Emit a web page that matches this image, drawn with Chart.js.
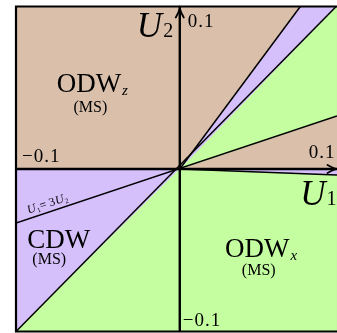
<!DOCTYPE html>
<html><head><meta charset="utf-8">
<script src="https://cdn.jsdelivr.net/npm/chart.js@4.4.1/dist/chart.umd.min.js"></script>
<style>html,body{margin:0;padding:0;background:#fff;overflow:hidden}canvas{display:block}</style>
</head><body>
<canvas id="c" width="337" height="333"></canvas>
<script>
// axis ranges (U1 horizontal, U2 vertical); right border is cut off in the picture
const xRange = [-0.1, 0.096];
const yRange = [-0.1, 0.1];
const tickValues = [-0.1, 0.1];
const tickLabels = ['\u22120.1', '0.1'];

// phase regions as polygons [U1, U2]
const odwzUpperLeft  = [[-0.1,0],[-0.1,0.1],[0.0736,0.1],[0,0],[-0.1,0]];
const cdwUpperWedge  = [[0,0],[0.0736,0.1],[0.0955,0.1],[0,0]];
const odwxUpperWedge = [[0,0],[0.0955,0.1],[0.096,0.1],[0.096,0.0326],[0,0]];
const odwzRightWedge = [[0,0],[0.096,0.0326],[0.096,0],[0,0]];
const cdwRightSliver = [[0,0],[0.096,0],[0.096,-0.0037],[0,0]];
const odwxLower      = [[0,0],[0.096,-0.0037],[0.096,-0.1],[-0.1,-0.1],[0,0]];
const cdwLowerLeft   = [[0,0],[-0.1,-0.1],[-0.1,0],[0,0]];

// phase boundaries
const lineU2eqU1  = [[-0.1,-0.1],[0.0955,0.1]];
const lineU1eq3U2 = [[-0.1,-0.0333],[0.096,0.0326]];
const lineUpper   = [[0,0],[0.0736,0.1]];
const lineLower   = [[0,0],[0.096,-0.0037]];
const axisU1 = [[-0.1,0],[0.096,0]];
const axisU2 = [[0,-0.1],[0,0.1]];

const BROWN = '#dac0ab', PURPLE = '#d6c0fc', GREEN = '#c4fea0';
const FONT = '"Liberation Serif", "Times New Roman", serif';

const pts = a => a.map(p => ({x: p[0], y: p[1]}));
const region = (a, c) => ({data: pts(a), showLine: true, fill: 'shape', backgroundColor: c,
  borderColor: c, borderWidth: 0.6, pointRadius: 0, tension: 0, order: 10});
const edge = (a, w) => ({data: pts(a), showLine: true, fill: false, borderColor: '#000',
  borderWidth: w, pointRadius: 0, tension: 0, order: 0});

function subText(ctx, main, sub, x, y, mainFont, subFont, align, dy) {
  ctx.font = mainFont;
  const w = ctx.measureText(main).width;
  ctx.font = subFont;
  const ws = ctx.measureText(sub).width;
  let left = x;
  if (align === 'center') left = x - w / 2;
  else if (align === 'right') left = x - w - ws;
  ctx.textAlign = 'left';
  ctx.font = mainFont;
  ctx.fillText(main, left, y);
  ctx.font = subFont;
  ctx.fillText(sub, left + w + 1, y + dy);
}

const overlay = {
  id: 'overlay',
  afterDatasetsDraw(chart) {
    const ctx = chart.ctx, a = chart.chartArea;
    const X = v => chart.scales.x.getPixelForValue(v);
    const Y = v => chart.scales.y.getPixelForValue(v);
    ctx.save();
    // frame (left, top, bottom)
    ctx.strokeStyle = '#000'; ctx.lineWidth = 2.2;
    ctx.beginPath();
    ctx.moveTo(a.right + 2, a.top); ctx.lineTo(a.left, a.top);
    ctx.lineTo(a.left, a.bottom); ctx.lineTo(a.right + 2, a.bottom);
    ctx.stroke();
    // arrowheads
    ctx.lineWidth = 1.8; ctx.lineCap = 'round';
    const tx = X(0), ty = Y(yRange[1]) + 2;
    ctx.beginPath();
    ctx.moveTo(tx - 4, ty + 9); ctx.quadraticCurveTo(tx - 1, ty + 4, tx, ty);
    ctx.quadraticCurveTo(tx + 1, ty + 4, tx + 4, ty + 9); ctx.stroke();
    const rx = a.right - 0.5, ry = Y(0);
    ctx.beginPath();
    ctx.moveTo(rx - 9, ry - 4); ctx.quadraticCurveTo(rx - 4, ry - 1, rx, ry);
    ctx.quadraticCurveTo(rx - 4, ry + 1, rx - 9, ry + 4); ctx.stroke();

    ctx.fillStyle = '#000'; ctx.textBaseline = 'alphabetic';
    ctx.letterSpacing = '1px';
    // tick labels
    ctx.font = '19px ' + FONT;
    ctx.textAlign = 'left';
    ctx.fillText(tickLabels[0], X(tickValues[0]) + 6, Y(0) - 7);
    ctx.textAlign = 'right';
    ctx.fillText(tickLabels[1], X(tickValues[1]) - 8, Y(0) - 11);
    ctx.textAlign = 'left';
    ctx.fillText(tickLabels[1], X(0) + 8, Y(tickValues[1]) + 20);
    ctx.fillText(tickLabels[0], X(0) + 3, Y(tickValues[0]) - 6);
    ctx.letterSpacing = '0px';
    // axis titles
    subText(ctx, 'U', '2', X(-0.0262), Y(0.0812), 'italic 35px ' + FONT, '20px ' + FONT, 'left', 0);
    subText(ctx, 'U', '1', X(0.0736), Y(-0.0222), 'italic 35px ' + FONT, '20px ' + FONT, 'left', 0);
    // phase labels
    subText(ctx, 'ODW', 'z', X(-0.0555), Y(0.0474), '27px ' + FONT, 'italic 15px ' + FONT, 'center', 3);
    ctx.font = '16px ' + FONT; ctx.textAlign = 'center';
    ctx.fillText('(MS)', X(-0.0546), Y(0.0351));
    subText(ctx, 'ODW', 'x', X(0.0473), Y(-0.0542), '27px ' + FONT, 'italic 15px ' + FONT, 'center', 3);
    ctx.font = '16px ' + FONT; ctx.textAlign = 'center';
    ctx.fillText('(MS)', X(0.0482), Y(-0.0652));
    ctx.font = '27px ' + FONT; ctx.textAlign = 'center';
    ctx.fillText('CDW', X(-0.0739), Y(-0.0486));
    ctx.font = '16px ' + FONT;
    ctx.fillText('(MS)', X(-0.0797), Y(-0.0585));
    // rotated boundary label U1 = 3U2
    const lx = -0.0790, ly = lx / 3;
    const ang = Math.atan2(Y(lineU1eq3U2[1][1]) - Y(lineU1eq3U2[0][1]), X(lineU1eq3U2[1][0]) - X(lineU1eq3U2[0][0]));
    ctx.save();
    ctx.translate(X(lx), Y(ly));
    ctx.rotate(ang);
    const parts = [['U', 'italic 12px ', 0], ['1', '7px ', 2], ['= 3', '12px ', 0], ['U', 'italic 12px ', 0], ['2', '7px ', 2]];
    let tw = 0;
    parts.forEach(p => { ctx.font = p[1] + FONT; tw += ctx.measureText(p[0]).width + 0.5; });
    let cx = -tw / 2;
    ctx.textAlign = 'left';
    parts.forEach(p => { ctx.font = p[1] + FONT; ctx.fillText(p[0], cx, -5 + p[2]); cx += ctx.measureText(p[0]).width + 0.5; });
    ctx.restore();
    ctx.restore();
  }
};

new Chart(document.getElementById('c'), {
  type: 'scatter',
  data: { datasets: [
    region(odwzUpperLeft, BROWN), region(cdwUpperWedge, PURPLE), region(odwxUpperWedge, GREEN),
    region(odwzRightWedge, BROWN), region(cdwRightSliver, PURPLE), region(odwxLower, GREEN),
    region(cdwLowerLeft, PURPLE),
    edge(lineU2eqU1, 1.5), edge(lineU1eq3U2, 1.5), edge(lineUpper, 1.5), edge(lineLower, 1.5),
    edge(axisU1, 2.4), edge(axisU2, 2.4)
  ]},
  options: {
    responsive: false, animation: false, devicePixelRatio: 1,
    layout: { padding: { left: 16, top: 6.5, right: 0, bottom: 1.5 } },
    plugins: { legend: { display: false }, tooltip: { enabled: false } },
    scales: {
      x: { type: 'linear', display: false, min: xRange[0], max: xRange[1] },
      y: { type: 'linear', display: false, min: yRange[0], max: yRange[1] }
    }
  },
  plugins: [overlay]
});
</script>
</body></html>
